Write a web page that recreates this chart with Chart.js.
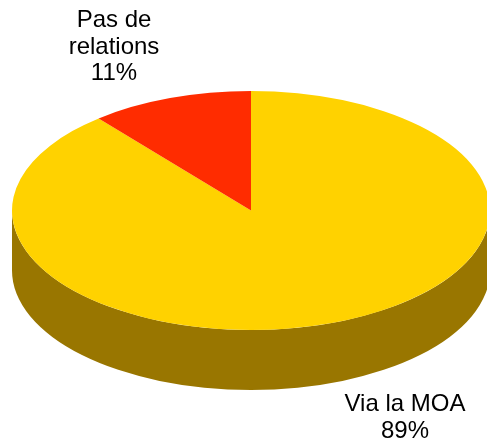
<!DOCTYPE html>
<html>
<head>
<meta charset="utf-8">
<script src="https://cdn.jsdelivr.net/npm/chart.js@4"></script>
<style>
  html, body { margin: 0; padding: 0; background: #fff; }
  canvas { display: block; }
</style>
</head>
<body>
<canvas id="pieChart" width="487" height="443"></canvas>
<script>
const labels = ['Via la MOA', 'Pas de relations'];
const values = [89, 11];
const percentLabels = ['89%', '11%'];
const topColors = ['#FFD200', '#FF2C00'];
const sideColors = ['#997600', '#991a00'];

// screen geometry of the tilted pie
const CX = 251, CY = 210.5, RX = 239, RY = 119.5, DEPTH = 60;
// where each label block is centred
const labelPos = [[405, 404], [114, 20]];

function frontRanges(a1, a2) {
    const out = [];
    for (let k = -1; k <= 2; k++) {
        const lo = Math.max(a1, k * 2 * Math.PI);
        const hi = Math.min(a2, k * 2 * Math.PI + Math.PI);
        if (hi > lo) out.push([lo, hi]);
    }
    return out;
}

const tiltPlugin = {
    id: 'tilt',
    beforeDatasetsDraw(chart) {
        const ctx = chart.ctx;
        const arcs = chart.getDatasetMeta(0).data;
        // side walls
        arcs.forEach((arc, i) => {
            frontRanges(arc.startAngle, arc.endAngle).forEach(([a, b]) => {
                ctx.beginPath();
                ctx.ellipse(CX, CY, RX, RY, 0, a, b);
                ctx.ellipse(CX, CY + DEPTH, RX, RY, 0, b, a, true);
                ctx.closePath();
                ctx.fillStyle = sideColors[i];
                ctx.fill();
            });
        });
        const r = arcs[0].outerRadius;
        ctx.save();
        ctx.translate(CX, CY);
        ctx.scale(RX / r, RY / r);
        ctx.translate(-arcs[0].x, -arcs[0].y);
    },
    afterDatasetsDraw(chart) {
        chart.ctx.restore();
    },
    afterDraw(chart) {
        const ctx = chart.ctx;
        ctx.save();
        ctx.fillStyle = '#000';
        ctx.font = '24px "Liberation Sans", Arial, sans-serif';
        ctx.textAlign = 'center';
        ctx.textBaseline = 'alphabetic';
        labels.forEach((lab, i) => {
            const words = lab === 'Pas de relations' ? ['Pas de', 'relations'] : [lab];
            const lines = words.concat([percentLabels[i]]);
            const [x, y] = labelPos[i];
            lines.forEach((ln, j) => ctx.fillText(ln, x, y + 7 + j * 26.5));
        });
        ctx.restore();
    }
};

new Chart(document.getElementById('pieChart'), {
    type: 'pie',
    data: {
        labels: labels,
        datasets: [{
            data: values,
            backgroundColor: topColors,
            borderWidth: 0,
            clip: false
        }]
    },
    options: {
        responsive: false,
        animation: false,
        events: [],
        plugins: {
            legend: { display: false },
            tooltip: { enabled: false }
        }
    },
    plugins: [tiltPlugin]
});
</script>
</body>
</html>
